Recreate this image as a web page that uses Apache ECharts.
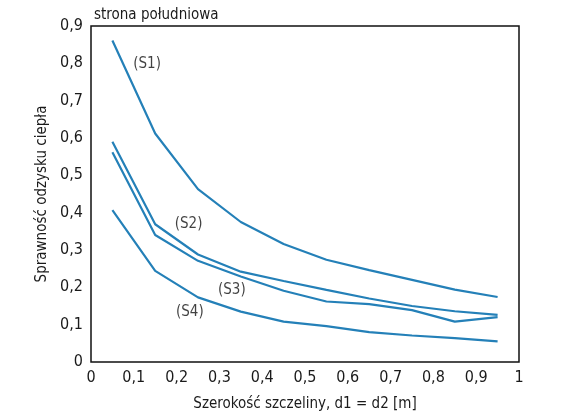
<!DOCTYPE html>
<html>
<head>
<meta charset="utf-8">
<script src="https://cdn.jsdelivr.net/npm/echarts@6/dist/echarts.min.js"></script>
<style>
  html, body { margin: 0; padding: 0; background: #fff; }
  #chart { width: 582px; height: 420px; }
</style>
</head>
<body>
<div id="chart"></div>
<script>
  // szerokość szczeliny [m]
  const gaps = [0.05, 0.15, 0.25, 0.35, 0.45, 0.55, 0.65, 0.75, 0.85, 0.95];
  const s1 = [0.861, 0.612, 0.463, 0.375, 0.316, 0.274, 0.246, 0.220, 0.194, 0.174];
  const s2 = [0.590, 0.369, 0.288, 0.242, 0.217, 0.193, 0.170, 0.150, 0.136, 0.126];
  const s3 = [0.562, 0.340, 0.271, 0.229, 0.191, 0.162, 0.155, 0.139, 0.108, 0.120];
  const s4 = [0.407, 0.244, 0.173, 0.135, 0.108, 0.096, 0.080, 0.071, 0.064, 0.055];
  const labels = [
    {name: '(S1)', x: 0.131, y: 0.798},
    {name: '(S2)', x: 0.228, y: 0.370},
    {name: '(S3)', x: 0.329, y: 0.193},
    {name: '(S4)', x: 0.231, y: 0.134},
  ];

  const font = "'DejaVu Sans Condensed', 'Liberation Sans', sans-serif";
  const blue = '#2480b8';
  const comma = v => (v === 0 || v === 1) ? String(v) : v.toFixed(1).replace('.', ',');

  const line = (name, vals) => ({
    name: name,
    type: 'line',
    data: gaps.map((g, i) => [g, vals[i]]),
    symbol: 'none',
    lineStyle: {color: blue, width: 2.2},
    silent: true
  });

  const chart = echarts.init(document.getElementById('chart'));
  chart.setOption({
    animation: false,
    title: {
      text: 'strona południowa',
      left: 89, top: 3,
      textStyle: {fontFamily: font, fontSize: 15, fontWeight: 'normal', color: '#1a1a1a'}
    },
    grid: {left: 91, right: 63, top: 26, bottom: 58, show: true, borderColor: '#111', borderWidth: 1.5},
    xAxis: {
      type: 'value', min: 0, max: 1, interval: 0.1,
      name: 'Szerokość szczeliny, d1 = d2 [m]',
      nameLocation: 'middle', nameGap: 35,
      nameTextStyle: {fontFamily: font, fontSize: 15, color: '#1a1a1a'},
      axisLine: {show: false},
      axisTick: {show: false},
      splitLine: {show: false},
      axisLabel: {fontFamily: font, fontSize: 16, color: '#1a1a1a', margin: 8, formatter: comma}
    },
    yAxis: {
      type: 'value', min: 0, max: 0.9, interval: 0.1,
      name: 'Sprawność odzysku ciepła',
      nameLocation: 'middle', nameGap: 36,
      nameTextStyle: {fontFamily: font, fontSize: 15, color: '#1a1a1a'},
      axisLine: {show: false},
      axisTick: {show: false},
      splitLine: {show: false},
      axisLabel: {fontFamily: font, fontSize: 16, color: '#1a1a1a', margin: 8, formatter: comma}
    },
    series: [
      line('S1', s1),
      line('S2', s2),
      line('S3', s3),
      line('S4', s4),
      {
        type: 'scatter',
        symbolSize: 0,
        silent: true,
        data: labels.map(l => ({name: l.name, value: [l.x, l.y]})),
        label: {
          show: true, position: 'inside', formatter: '{b}',
          fontFamily: font, fontSize: 15, color: '#111', textBorderWidth: 0
        }
      }
    ]
  });
</script>
</body>
</html>
